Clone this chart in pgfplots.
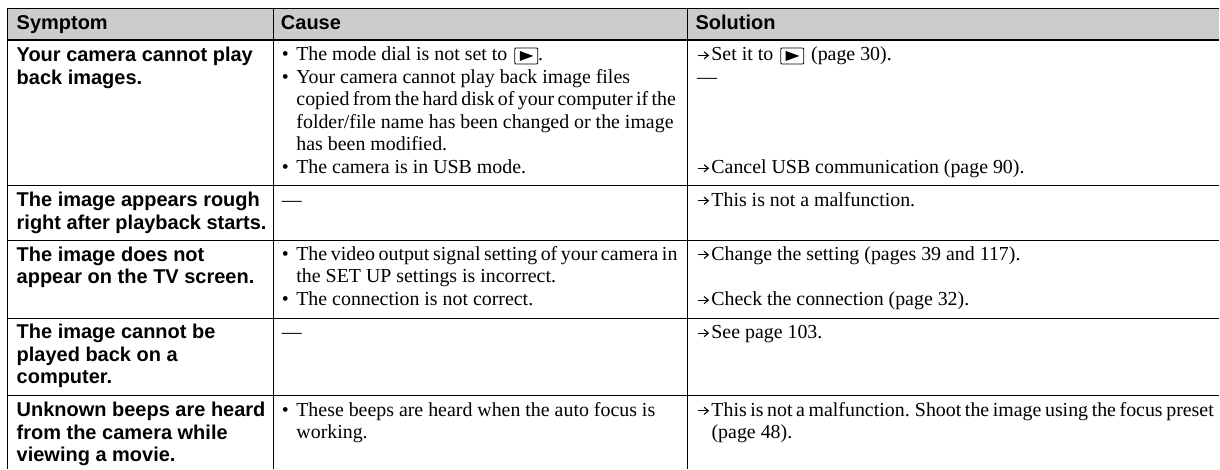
\documentclass[border=0pt]{standalone}
\usepackage{pgfplots}
\pgfplotsset{compat=1.18}
\usepackage{fontspec}
\setmainfont{Liberation Serif}
\newfontfamily\hd{Liberation Sans}
\definecolor{hdr}{gray}{0.8}
\newcommand{\pb}{\kern 7pt\tikz[baseline=0pt,x=1pt,y=1pt]{\draw[line width=0.9pt,rounded corners=1pt] (0,-3) rectangle (23,13);\fill (5,0)--(5,10)--(18.6,5)--cycle;}}
\newcommand{\ar}{\tikz[baseline=0pt,x=1pt,y=1pt]{\draw[line width=1.1pt] (0,5.6)--(10.4,5.6);\draw[line width=1.1pt] (6.4,9.2)--(10.6,5.6)--(6.4,2);}\kern 2.6pt}
\newcommand{\bu}{\makebox[14.4pt][l]{•}}
\newcommand{\tight}[1]{\spaceskip=#1pt\relax}
\begin{document}
\begin{tikzpicture}
\begin{axis}[scale only axis,width=1220pt,height=469pt,xmin=0,xmax=1220,ymin=0,ymax=469,y dir=reverse,hide axis,clip=false]
\path (axis cs:0,0) rectangle (axis cs:1220,469);
\addplot[draw=none,fill=hdr] coordinates {(8,8) (1220,8) (1220,40) (8,40)} --cycle;
\addplot[black,line width=1pt] coordinates {(7.5,8.5) (1220,8.5)};
\addplot[black,line width=2pt] coordinates {(7.5,40.5) (1220,40.5)};
\addplot[black,line width=1pt] coordinates {(7.5,185.5) (1220,185.5)};
\addplot[black,line width=1pt] coordinates {(7.5,240.5) (1220,240.5)};
\addplot[black,line width=1pt] coordinates {(7.5,318.5) (1220,318.5)};
\addplot[black,line width=1pt] coordinates {(7.5,395.5) (1220,395.5)};
\addplot[black,line width=1pt] coordinates {(7.5,8) (7.5,469)};
\addplot[black,line width=1pt] coordinates {(273.5,8) (273.5,469)};
\addplot[black,line width=1pt] coordinates {(688.5,8) (688.5,469)};
\tikzset{h/.style={anchor=base west,inner sep=0pt,font=\hd\bfseries\fontsize{20}{20}\selectfont},
 t/.style={anchor=base west,inner sep=0pt,font=\fontsize{19.9}{19.9}\selectfont}}
\node[h] at (axis cs:16.5,30) {Symptom};
\node[h] at (axis cs:281,30) {Cause};
\node[h] at (axis cs:696,30) {Solution};
\foreach \y/\s in {61.7/Your camera cannot play,84.3/back images.,207/The image appears rough,230/right after playback starts.,261.7/The image does not,284/appear on the TV screen.,339/The image cannot be,361.7/played back on a,384/computer.,416.7/Unknown beeps are heard,440/from the camera while,462/viewing a movie.}
 {\edef\tmp{\noexpand\node[h] at (axis cs:16.5,\y) {\s};}\tmp}
\node[t] at (axis cs:282,61) {\bu The mode dial is not set to\pb.};
\node[t] at (axis cs:282,83.5) {\bu Your camera cannot play back image files};
\node[t] at (axis cs:296.5,106) {\tight{3.4}copied from the hard disk of your computer if the};
\node[t] at (axis cs:296.5,129) {folder/file name has been changed or the image};
\node[t] at (axis cs:296.5,151) {has been modified.};
\node[t] at (axis cs:282,174) {\bu The camera is in USB mode.};
\node[t] at (axis cs:282,206.5) {—};
\node[t] at (axis cs:282,260.7) {\bu\tight{3.6}The video output signal setting of your camera in};
\node[t] at (axis cs:296.5,283) {the SET UP settings is incorrect.};
\node[t] at (axis cs:282,306) {\bu The connection is not correct.};
\node[t] at (axis cs:282,339) {—};
\node[t] at (axis cs:282,416.7) {\bu These beeps are heard when the auto focus is};
\node[t] at (axis cs:296.5,439) {working.};
\node[t] at (axis cs:697.5,61) {\ar Set it to\pb\kern 7pt(page 30).};
\node[t] at (axis cs:697.5,83.5) {—};
\node[t] at (axis cs:697.5,174) {\ar Cancel USB communication (page 90).};
\node[t] at (axis cs:697.5,206.5) {\ar This is not a malfunction.};
\node[t] at (axis cs:697.5,260.7) {\ar Change the setting (pages 39 and 117).};
\node[t] at (axis cs:697.5,306) {\ar Check the connection (page 32).};
\node[t] at (axis cs:697.5,339) {\ar See page 103.};
\node[t] at (axis cs:697.5,416.7) {\ar\tight{3.6}This is not a malfunction. Shoot the image using the focus preset};
\node[t] at (axis cs:712,439) {(page 48).};
\end{axis}
\end{tikzpicture}
\end{document}
